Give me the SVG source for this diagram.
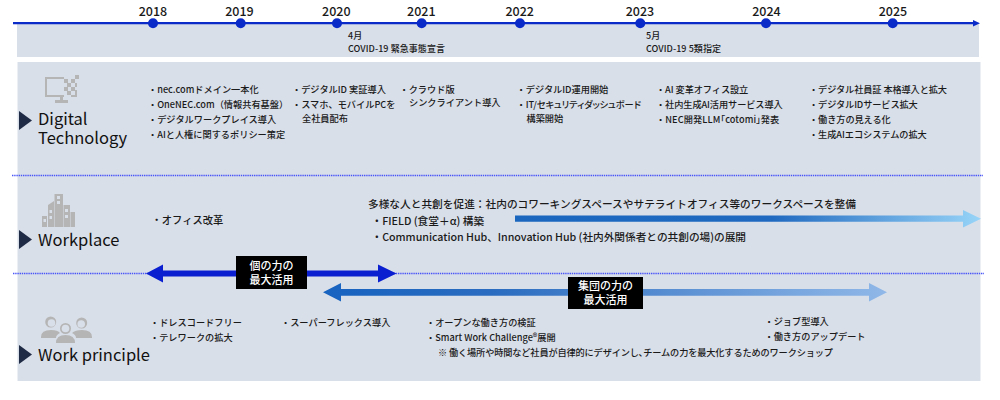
<svg xmlns="http://www.w3.org/2000/svg" width="1000" height="400" viewBox="0 0 1000 400">
<style>
text{font-family:"Noto Sans CJK JP","Noto Sans",sans-serif;fill:#1a1a1a}
.y{font-size:12.5px;font-weight:500;text-anchor:middle}
.t{font-size:9.2px;font-weight:500}
.p{font-feature-settings:"palt"}
.s{font-size:9px;font-weight:500}
.w{font-size:10.7px;font-weight:500}
.o{font-size:10.3px;font-weight:500}
.h{font-size:16.5px;font-weight:400;fill:#111}
.l{font-size:11px;font-weight:500;fill:#fff;text-anchor:middle}
.band{fill:#d9dfe9}
.ic{fill:#b5b5b5}
.tri{fill:#1f2a44}
.dot{fill:#0a2bc8}
.dl{stroke:#4a55f8;stroke-width:1.300;stroke-dasharray:1.400 .8;fill:none}
</style>
<defs>
<linearGradient id="g1" gradientUnits="userSpaceOnUse" x1="515" y1="0" x2="981" y2="0"><stop offset="0" stop-color="#1a66bf"/><stop offset=".55" stop-color="#1f69c0"/><stop offset="1" stop-color="#98d4f8"/></linearGradient>
<linearGradient id="g2" gradientUnits="userSpaceOnUse" x1="323" y1="0" x2="887" y2="0"><stop offset="0" stop-color="#1763c0"/><stop offset=".3" stop-color="#2a6cc0"/><stop offset="1" stop-color="#90b8e8"/></linearGradient>
</defs>
<g id="bands">
<rect class="band" x="17" y="24" width="962" height="33"/>
<rect class="band" x="17.5" y="62" width="963" height="319"/>
</g>
<g id="connectors">
<path d="M13 23.200H975" stroke="#0a2bc8" stroke-width="2.200" fill="none"/>
<path d="M973 20L980 23.200L973 26.500Z" fill="#0a2bc8"/>
<path class="dl" d="M12 175.500H983"/>
<path class="dl" d="M13 273.500H984"/>
<path d="M146 273.500L163 264.500V270.500H378V264.500L396.500 273.500L378 282.500V276.500H163V282.500Z" fill="#0a1fd0"/>
<path d="M323 292.300L341 283V289H869V283L887 292.300L869 301.500V295.700H341V301.500Z" fill="url(#g2)"/>
<path d="M515 215.500H963V210L981 218.700L963 227.500V221.700H515Z" fill="url(#g1)"/>
</g>
<g id="year-2018"><circle class="dot" cx="153" cy="23.300" r="5"/><text class="y" x="153" y="16">2018</text></g>
<g id="year-2019"><circle class="dot" cx="240.700" cy="23.300" r="5"/><text class="y" x="239.500" y="16">2019</text></g>
<g id="year-2020"><circle class="dot" cx="337" cy="23.300" r="5"/><text class="y" x="336.300" y="16">2020</text></g>
<g id="year-2021"><circle class="dot" cx="421.700" cy="23.300" r="5"/><text class="y" x="421.300" y="16">2021</text></g>
<g id="year-2022"><circle class="dot" cx="520" cy="23.300" r="5"/><text class="y" x="519.700" y="16">2022</text></g>
<g id="year-2023"><circle class="dot" cx="640.300" cy="23.300" r="5"/><text class="y" x="640" y="16">2023</text></g>
<g id="year-2024"><circle class="dot" cx="766" cy="23.300" r="5"/><text class="y" x="766.500" y="16">2024</text></g>
<g id="year-2025"><circle class="dot" cx="892.700" cy="23.300" r="5"/><text class="y" x="893" y="16">2025</text></g>
<g id="event-2020"><text class="s" x="348" y="39">4月</text><text class="s" x="348" y="52" textLength="97">COVID-19 緊急事態宣言</text></g>
<g id="event-2023"><text class="s" x="646" y="39">5月</text><text class="s" x="646" y="52" textLength="75">COVID-19 5類指定</text></g>
<g id="digital-technology">
<path class="ic" fill-rule="evenodd" d="M45 77H77V97H45ZM47 79V95H75V79Z"/>
<path class="ic" d="M60 97H63V100H68V103H55V100H60Z"/>
<path class="band" d="M64 76H79V90H71V97H64Z"/>
<path class="ic" d="M75 75H79V79H75ZM71 79H75V83H71ZM64 79H68V83H64ZM67 83H71V87H67ZM75 83H77V87H75ZM71 87H75V91H71ZM64 87H68V91H64ZM67 91H71V95H67ZM75 91H77V97H75Z"/>
<path class="tri" d="M19 111L32 120.500L19 130Z"/>
<text class="h" x="38" y="125">Digital</text>
<text class="h" x="38" y="144">Technology</text>
</g>
<g id="digital-items">
<text class="t" x="148" y="92.500">・nec.comドメイン一本化</text>
<text class="t" x="148" y="108">・OneNEC.com（情報共有基盤）</text>
<text class="t" x="148" y="123">・デジタルワークプレイス導入</text>
<text class="t" x="148" y="138">・AIと人権に関するポリシー策定</text>
<text class="t" x="292" y="92.500">・デジタルID 実証導入</text>
<text class="t" x="292" y="108">・スマホ、モバイルPCを</text>
<text class="t" x="302" y="122">全社員配布</text>
<text class="t" x="399.500" y="92.500">・クラウド版</text>
<text class="t" x="409" y="106">シンクライアント導入</text>
<text class="t" x="516.500" y="92.500" textLength="91.800">・デジタルID運用開始</text>
<text class="t" x="516.500" y="108" textLength="124.500">・<tspan class="p">IT/セキュリティダッシュボード</tspan></text>
<text class="t" x="526.500" y="122">構築開始</text>
<text class="t" x="656" y="92.500" textLength="92.300">・AI 変革オフィス設立</text>
<text class="t" x="656" y="108" textLength="126.700">・社内生成AI活用サービス導入</text>
<text class="t" x="656" y="123" textLength="123.300">・<tspan class="p">NEC開発LLM「cotomi」発表</tspan></text>
<text class="t" x="809" y="92.500" textLength="138">・デジタル社員証 本格導入と拡大</text>
<text class="t" x="809" y="108" textLength="108.700">・デジタルIDサービス拡大</text>
<text class="t" x="809" y="123" textLength="81.700">・働き方の見える化</text>
<text class="t" x="809" y="138" textLength="117.700">・生成AIエコシステムの拡大</text>
</g>
<g id="workplace">
<path class="ic" d="M42 216H47V227H42ZM48 205L54 201V227H48ZM54.500 194H63V227H54.500ZM63.500 205H70V227H63.500ZM70.500 212H75V227H70.500Z"/>
<path class="band" d="M43.500 219H46V222H43.500ZM49.500 210H52V213H49.500ZM49.500 216H52V219H49.500ZM57 196H60V199H57ZM57 201H60V204H57ZM65 209H68V212H65ZM65 215H68V218H65Z"/>
<path class="tri" d="M19 230L32 239.500L19 249Z"/>
<text class="h" x="38" y="246">Workplace</text>
</g>
<g id="workplace-items">
<text class="o" x="151.500" y="223.500">・オフィス改革</text>
<text class="w" x="368" y="208" textLength="488">多様な人と共創を促進：社内のコワーキングスペースやサテライトオフィス等のワークスペースを整備</text>
<text class="w" x="371.500" y="224.500">・FIELD (食堂＋α) 構築</text>
<text class="w" x="371.500" y="240.500" textLength="374.500">・Communication Hub、Innovation Hub (社内外関係者との共創の場)の展開</text>
</g>
<g id="label-individual">
<rect x="236" y="256" width="71" height="33" fill="#000"/>
<text class="l" x="271.500" y="269.500">個の力の</text>
<text class="l" x="271.500" y="283.500">最大活用</text>
</g>
<g id="label-group">
<rect x="568" y="277" width="75" height="32" fill="#000"/>
<text class="l" x="605.500" y="290">集団の力の</text>
<text class="l" x="605.500" y="304">最大活用</text>
</g>
<g id="work-principle">
<circle class="ic" cx="50.700" cy="322" r="5.500"/><circle class="band" cx="51.500" cy="323" r="3.800"/>
<circle class="ic" cx="81.700" cy="323" r="5.500"/><circle class="band" cx="81.200" cy="324" r="3.800"/>
<circle class="ic" cx="65.500" cy="328.500" r="5.500"/><circle class="band" cx="65.500" cy="328.500" r="3.800"/>
<path class="ic" d="M41 337Q41 330 51 330Q58 330 60 333Q56 335 56 338H41ZM92 337Q92 330 82 330Q75 330 72 333Q76 335 76 338H92Z"/>
<path class="ic" d="M56 343Q56 335 65.500 335Q75 335 75 343Z"/>
<path class="tri" d="M19 345L32 354.500L19 364Z"/>
<text class="h" x="38" y="361">Work principle</text>
</g>
<g id="principle-items">
<text class="t" x="150" y="325.500">・ドレスコードフリー</text>
<text class="t" x="150" y="341">・テレワークの拡大</text>
<text class="t" x="281" y="325.500">・スーパーフレックス導入</text>
<text class="t" x="426" y="325.500">・オープンな働き方の検証</text>
<text class="t" x="426" y="341">・Smart Work Challenge®展開</text>
<text class="t" x="438" y="356" textLength="395">※ 働く場所や時間など社員が自律的にデザインし､チームの力を最大化するためのワークショップ</text>
<text class="t" x="764.500" y="325">・ジョブ型導入</text>
<text class="t" x="764.500" y="339.500">・働き方のアップデート</text>
</g>
</svg>
